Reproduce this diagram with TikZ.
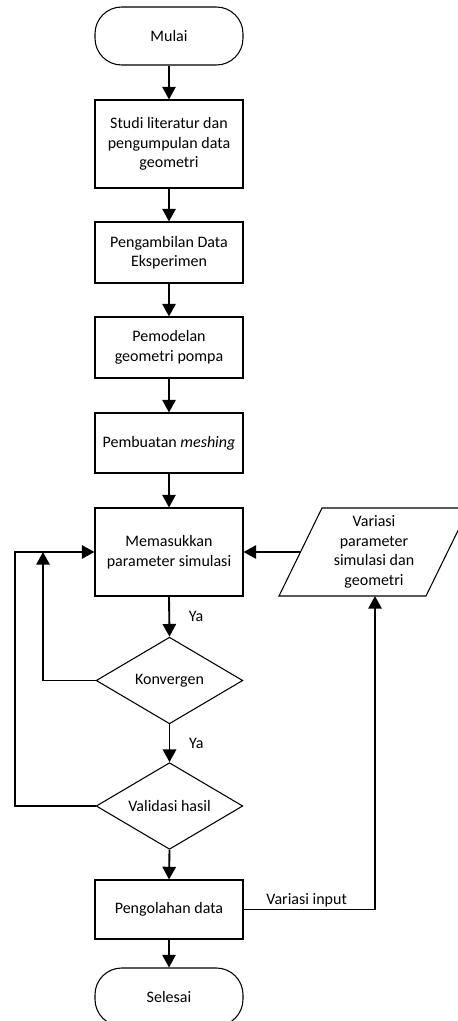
\documentclass[tikz,border=0pt]{standalone}
\usepackage{fontspec}
\setmainfont{Carlito}
\usepackage{tikz}
\usetikzlibrary{shapes, shapes.geometric, arrows.meta, calc, positioning}

\tikzset{
	box/.style={draw, line width=0.8pt, rectangle, minimum width=111pt, align=center, inner sep=2pt},
	term/.style={box, rounded corners=20pt, minimum height=43.5pt},
	cond/.style={draw, line width=0.8pt, diamond, aspect=1.7, inner sep=0pt, minimum width=110pt, minimum height=65pt, align=center},
	arr/.style={line width=1.4pt, -{Triangle[width=10pt,length=9.5pt]}},
	lbl/.style={inner sep=1pt}
}

\begin{document}
\begin{tikzpicture}[x=0.75pt, y=-0.75pt, font=\fontsize{12}{14.6}\selectfont]
			\useasboundingbox (0,0) rectangle (457,1021);
			
			% main column
			\node[term] (mulai) at (169,36) {Mulai};
			\node[box, minimum height=66pt] (studi) at (169,144) {Studi literatur dan\\pengumpulan data\\geometri};
			\node[box, minimum height=45.75pt] (ambil) at (169,252.5) {Pengambilan Data\\Eksperimen};
			\node[box, minimum height=45.75pt] (model) at (169,347.5) {Pemodelan\\geometri pompa};
			\node[box, minimum height=45pt] (mesh) at (169,443) {Pembuatan \textit{meshing}};
			\node[box, minimum height=66pt] (masuk) at (169,552) {Memasukkan\\parameter simulasi};
			\node[cond] (konv) at (169.5,680.5) {Konvergen};
			\node[cond] (valid) at (169.5,806) {Validasi hasil};
			\node[box, minimum height=44.25pt] (olah) at (169,909.5) {Pengolahan data};
			\node[term] (selesai) at (169,997) {Selesai};
			
			% input variation (parallelogram, cut by the page edge)
			\node[align=center] (var) at (374,552) {Variasi\\parameter\\simulasi dan\\geometri};
			\draw[line width=0.8pt] (322,508) -- (469,508) -- (426,596) -- (279,596) -- cycle;
			\coordinate (varin) at (300.5,552);
			\coordinate (varout) at (375,596);
			
			\coordinate (inner) at (43,552);
			\coordinate (outer) at (15,552);
			
			\foreach \a/\b in {mulai/studi, studi/ambil, ambil/model, model/mesh, mesh/masuk, valid/olah, olah/selesai}
			\draw[arr] (\a.south) -- (\b.north);
			
			\draw[arr] (masuk.south) -- node[lbl, right, xshift=13pt] (ya1) {Ya} (konv.north);
			\draw[arr] (konv.south) -- node[lbl, right, xshift=13pt] (ya2) {Ya} (valid.north);
			
			\draw[arr] (konv.west) -| (inner);
			\draw[arr] (valid.west) -| (outer) -- (masuk.west);
			\draw[arr] (varin) -- (masuk.east);
			\draw[arr] (olah.east) -| node[lbl, above, pos=0.24] (vin) {Variasi input} (varout);
			\end{tikzpicture}
\end{document}
